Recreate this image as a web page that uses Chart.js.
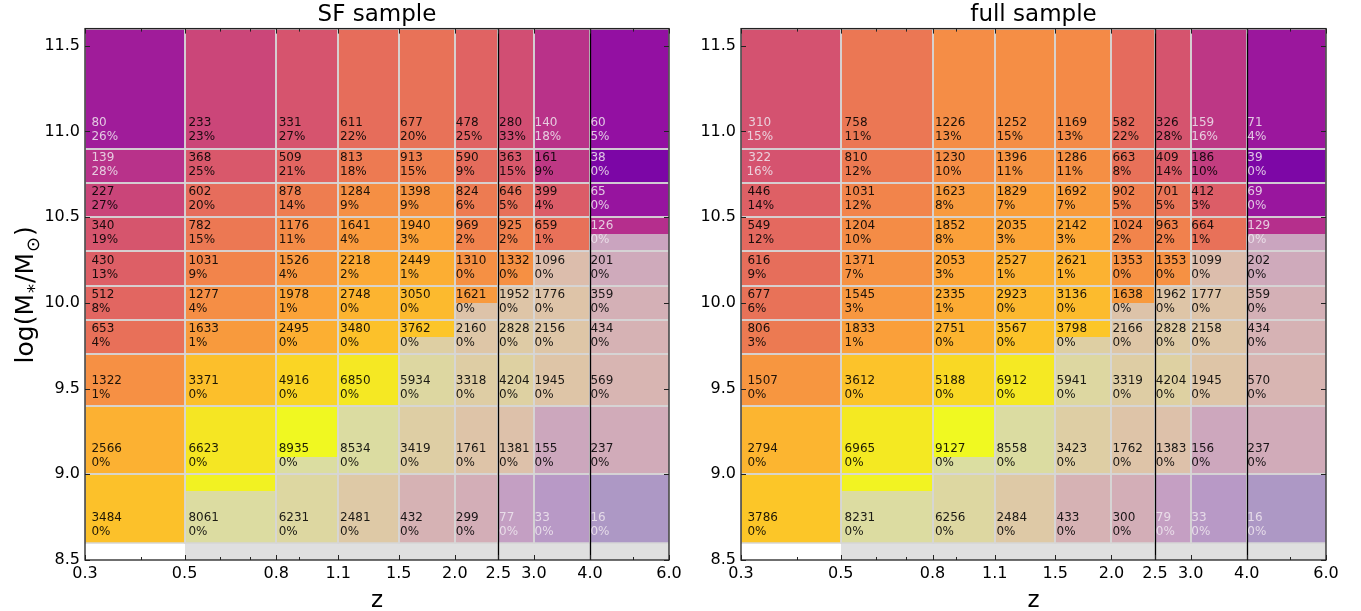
<!DOCTYPE html>
<html>
<head>
<meta charset="utf-8">
<script src="https://cdn.jsdelivr.net/npm/chart.js@4.4.0/dist/chart.umd.min.js"></script>
<style>
  body { margin: 0; background: #fff; }
  #wrap { position: relative; width: 1361px; height: 611px; overflow: hidden; }
  canvas { position: absolute; top: 0; }
</style>
</head>
<body>
<div id="wrap">
  <canvas id="sfChart" width="700" height="611" style="left:0"></canvas>
  <canvas id="fullChart" width="671" height="611" style="left:690px"></canvas>
</div>
<script>
const FONT = '"DejaVu Sans", sans-serif';

const zEdges = [0.3, 0.5, 0.8, 1.1, 1.5, 2.0, 2.5, 3.0, 4.0, 6.0];
const massEdges = [8.6, 9.0, 9.4, 9.7, 9.9, 10.1, 10.3, 10.5, 10.7, 10.9, 11.6];
// mass completeness limit per z bin (below it the cells are greyed out)
const massLimit = [8.5, 8.9, 9.1, 9.4, 9.8, 10.0, 10.1, 10.3, 10.4];
const zTicks = [0.3, 0.5, 0.8, 1.1, 1.5, 2.0, 2.5, 3.0, 4.0, 6.0];
const zMinorTicks = [0.4, 0.6, 0.7, 0.9, 5.0];
const massTicks = [8.5, 9.0, 9.5, 10.0, 10.5, 11.0, 11.5];
const zLines = [2.5, 4.0];

// rows go from the lowest mass bin (8.6-9.0) up to the top one (10.9-11.6)
const sfCounts = [
  [3484, 8061, 6231, 2481, 432, 299, 77, 33, 16],
  [2566, 6623, 8935, 8534, 3419, 1761, 1381, 155, 237],
  [1322, 3371, 4916, 6850, 5934, 3318, 4204, 1945, 569],
  [653, 1633, 2495, 3480, 3762, 2160, 2828, 2156, 434],
  [512, 1277, 1978, 2748, 3050, 1621, 1952, 1776, 359],
  [430, 1031, 1526, 2218, 2449, 1310, 1332, 1096, 201],
  [340, 782, 1176, 1641, 1940, 969, 925, 659, 126],
  [227, 602, 878, 1284, 1398, 824, 646, 399, 65],
  [139, 368, 509, 813, 913, 590, 363, 161, 38],
  [80, 233, 331, 611, 677, 478, 280, 140, 60]
];
const sfPct = [
  [0, 0, 0, 0, 0, 0, 0, 0, 0],
  [0, 0, 0, 0, 0, 0, 0, 0, 0],
  [1, 0, 0, 0, 0, 0, 0, 0, 0],
  [4, 1, 0, 0, 0, 0, 0, 0, 0],
  [8, 4, 1, 0, 0, 0, 0, 0, 0],
  [13, 9, 4, 2, 1, 0, 0, 0, 0],
  [19, 15, 11, 4, 3, 2, 2, 1, 0],
  [27, 20, 14, 9, 9, 6, 5, 4, 0],
  [28, 25, 21, 18, 15, 9, 15, 9, 0],
  [26, 23, 27, 22, 20, 25, 33, 18, 5]
];
const fullCounts = [
  [3786, 8231, 6256, 2484, 433, 300, 79, 33, 16],
  [2794, 6965, 9127, 8558, 3423, 1762, 1383, 156, 237],
  [1507, 3612, 5188, 6912, 5941, 3319, 4204, 1945, 570],
  [806, 1833, 2751, 3567, 3798, 2166, 2828, 2158, 434],
  [677, 1545, 2335, 2923, 3136, 1638, 1962, 1777, 359],
  [616, 1371, 2053, 2527, 2621, 1353, 1353, 1099, 202],
  [549, 1204, 1852, 2035, 2142, 1024, 963, 664, 129],
  [446, 1031, 1623, 1829, 1692, 902, 701, 412, 69],
  [322, 810, 1230, 1396, 1286, 663, 409, 186, 39],
  [310, 758, 1226, 1252, 1169, 582, 326, 159, 71]
];
const fullPct = [
  [0, 0, 0, 0, 0, 0, 0, 0, 0],
  [0, 0, 0, 0, 0, 0, 0, 0, 0],
  [0, 0, 0, 0, 0, 0, 0, 0, 0],
  [3, 1, 0, 0, 0, 0, 0, 0, 0],
  [6, 3, 1, 0, 0, 0, 0, 0, 0],
  [9, 7, 3, 1, 1, 0, 0, 0, 0],
  [12, 10, 8, 3, 3, 2, 2, 1, 0],
  [14, 12, 8, 7, 7, 5, 5, 3, 0],
  [16, 12, 10, 11, 11, 8, 14, 10, 0],
  [15, 11, 13, 15, 13, 22, 28, 16, 4]
];

// matplotlib "plasma", sampled every 0.1
const plasmaStops = [
  [13, 8, 135], [65, 4, 157], [106, 0, 168], [143, 13, 164], [177, 42, 144],
  [204, 71, 120], [225, 100, 98], [242, 132, 75], [252, 166, 54], [252, 206, 37], [240, 249, 33]
];

function plasma(t) {
  t = Math.min(1, Math.max(0, t));
  const s = t * (plasmaStops.length - 1);
  const i = Math.min(Math.floor(s), plasmaStops.length - 2);
  const f = s - i;
  const a = plasmaStops[i], b = plasmaStops[i + 1];
  const c = [0, 1, 2].map(k => Math.round(a[k] + (b[k] - a[k]) * f));
  return `rgb(${c[0]},${c[1]},${c[2]})`;
}

// log colour scale on the number of galaxies
function countColor(n) {
  return plasma((Math.log10(n) - 0.79) / (3.96 - 0.79));
}

// pale text on the dark cells (and a few cells the original also printed pale)
function labelIsPale(panel, zi, mi, n) {
  if (n < 150) return true;
  return panel === 'full' && ((zi === 0 && mi >= 8) || (zi === 7 && mi === 9));
}

function cellsPlugin(counts, pct, panel) {
  return {
    id: 'cells',
    beforeDatasetsDraw(chart) {
      const { ctx, chartArea: area, scales: { x, y } } = chart;
      ctx.save();
      ctx.beginPath();
      ctx.rect(area.left, area.top, area.width, area.height);
      ctx.clip();

      for (let mi = 0; mi < massEdges.length - 1; mi++) {
        for (let zi = 0; zi < zEdges.length - 1; zi++) {
          const x0 = Math.round(x.getPixelForValue(zEdges[zi]));
          const x1 = Math.round(x.getPixelForValue(zEdges[zi + 1]));
          const y0 = Math.round(y.getPixelForValue(massEdges[mi + 1]));
          const y1 = Math.round(y.getPixelForValue(massEdges[mi]));
          ctx.fillStyle = countColor(counts[mi][zi]);
          ctx.fillRect(x0, y0, x1 - x0, y1 - y0);
        }
      }

      // grey veil below the completeness limit
      ctx.fillStyle = 'rgba(211, 211, 211, 0.72)';
      massLimit.forEach((lim, zi) => {
        if (lim <= y.min) return;
        const x0 = Math.round(x.getPixelForValue(zEdges[zi]));
        const x1 = Math.round(x.getPixelForValue(zEdges[zi + 1]));
        const yTop = Math.round(y.getPixelForValue(lim));
        const yBot = Math.round(y.getPixelForValue(y.min));
        ctx.fillRect(x0, yTop, x1 - x0, yBot - yTop);
      });

      // cell edges
      ctx.strokeStyle = '#d6d6d6';
      ctx.lineWidth = 1.5;
      for (let mi = 0; mi < massEdges.length - 1; mi++) {
        for (let zi = 0; zi < zEdges.length - 1; zi++) {
          const x0 = Math.round(x.getPixelForValue(zEdges[zi]));
          const x1 = Math.round(x.getPixelForValue(zEdges[zi + 1]));
          const y0 = Math.round(y.getPixelForValue(massEdges[mi + 1]));
          const y1 = Math.round(y.getPixelForValue(massEdges[mi]));
          ctx.strokeRect(x0, y0, x1 - x0, y1 - y0);
        }
      }

      ctx.strokeStyle = '#000';
      ctx.lineWidth = 1.3;
      zLines.forEach(z => {
        const px = Math.round(x.getPixelForValue(z)) + 0.5;
        ctx.beginPath();
        ctx.moveTo(px, area.top);
        ctx.lineTo(px, area.bottom);
        ctx.stroke();
      });
      ctx.restore();
    },
    afterDatasetsDraw(chart) {
      const { ctx, scales: { x, y } } = chart;
      ctx.save();
      ctx.font = '12px ' + FONT;
      ctx.textBaseline = 'alphabetic';
      for (let mi = 0; mi < massEdges.length - 1; mi++) {
        for (let zi = 0; zi < zEdges.length - 1; zi++) {
          const n = counts[mi][zi];
          const lines = [String(n), pct[mi][zi] + '%'];
          const xl = x.getPixelForValue(zEdges[zi] + 0.01);
          const yc = y.getPixelForValue(massEdges[mi] + 0.1);
          const pale = labelIsPale(panel, zi, mi, n);
          ctx.fillStyle = pale ? 'rgba(238, 230, 238, 0.85)' : 'rgba(0, 0, 0, 0.88)';
          let xt = xl;
          if (pale && panel === 'full' && zi === 0) {
            const w = Math.max(...lines.map(s => ctx.measureText(s).width));
            ctx.textAlign = 'center';
            xt = xl - 1 + w / 2;
          } else {
            ctx.textAlign = 'left';
          }
          ctx.fillText(lines[0], xt, yc - 5);
          ctx.fillText(lines[1], xt, yc + 9);
        }
      }
      ctx.restore();
    }
  };
}

function drawMassLabel(ctx, cx, cy) {
  const big = '25px ' + FONT, small = '18px ' + FONT;
  const parts = [['log(M', big, 0], ['*', small, 7], ['/M', big, 0], ['\u2299', small, 6], [')', big, 0]];
  ctx.save();
  ctx.translate(cx, cy);
  ctx.rotate(-Math.PI / 2);
  ctx.fillStyle = '#000';
  ctx.textAlign = 'left';
  ctx.textBaseline = 'alphabetic';
  let total = 0;
  parts.forEach(p => { ctx.font = p[1]; total += ctx.measureText(p[0]).width + 1; });
  let pos = -total / 2;
  parts.forEach(p => {
    ctx.font = p[1];
    ctx.fillText(p[0], pos, p[2]);
    pos += ctx.measureText(p[0]).width + 1;
  });
  ctx.restore();
}

function framePlugin(showMassLabel) {
  return {
    id: 'frame',
    afterDraw(chart) {
      const { ctx, chartArea: a, scales: { x, y } } = chart;
      ctx.save();
      ctx.strokeStyle = '#222';
      ctx.lineWidth = 1;
      const tick = (x0, y0, x1, y1) => {
        ctx.beginPath();
        ctx.moveTo(x0, y0);
        ctx.lineTo(x1, y1);
        ctx.stroke();
      };
      zTicks.forEach(z => {
        const px = Math.round(x.getPixelForValue(z)) + 0.5;
        tick(px, a.bottom, px, a.bottom - 5);
        tick(px, a.top, px, a.top + 5);
      });
      zMinorTicks.forEach(z => {
        const px = Math.round(x.getPixelForValue(z)) + 0.5;
        tick(px, a.bottom, px, a.bottom - 3);
        tick(px, a.top, px, a.top + 3);
      });
      massTicks.forEach(m => {
        const py = Math.round(y.getPixelForValue(m)) + 0.5;
        tick(a.left, py, a.left + 5, py);
        tick(a.right, py, a.right - 5, py);
      });
      ctx.lineWidth = 1.3;
      ctx.strokeRect(a.left, a.top, a.right - a.left, a.bottom - a.top);
      if (showMassLabel) drawMassLabel(ctx, 33, (a.top + a.bottom) / 2);
      ctx.restore();
    }
  };
}

function makePanel(id, title, counts, pct, panel, axisWidth, padRight) {
  return new Chart(document.getElementById(id), {
    type: 'scatter',
    data: { datasets: [] },
    plugins: [cellsPlugin(counts, pct, panel), framePlugin(panel === 'sf')],
    options: {
      responsive: false,
      animation: false,
      devicePixelRatio: 1,
      layout: { padding: { left: 0, right: padRight, top: 0, bottom: 0 } },
      plugins: {
        legend: { display: false },
        tooltip: { enabled: false },
        title: {
          display: true,
          text: title,
          fullSize: false,
          color: '#000',
          font: { family: FONT, size: 23, weight: 'normal' },
          padding: { top: 1, bottom: 0 }
        }
      },
      scales: {
        x: {
          type: 'logarithmic',
          min: 0.3,
          max: 6,
          afterBuildTicks: s => { s.ticks = zTicks.map(v => ({ value: v })); },
          afterFit: s => { s.height = 51; s.paddingLeft = 0; s.paddingRight = 0; },
          ticks: {
            autoSkip: false,
            maxRotation: 0,
            minRotation: 0,
            padding: 4,
            color: '#000',
            font: { family: FONT, size: 16 },
            callback: v => Number(v).toFixed(1)
          },
          grid: { display: false, drawTicks: false },
          border: { display: false },
          title: {
            display: true,
            text: 'z',
            color: '#000',
            font: { family: FONT, size: 23 },
            padding: { top: 0, bottom: -4 }
          }
        },
        y: {
          type: 'linear',
          min: 8.5,
          max: 11.6,
          afterBuildTicks: s => { s.ticks = massTicks.map(v => ({ value: v })); },
          afterFit: s => { s.width = axisWidth; s.paddingTop = 0; s.paddingBottom = 0; },
          ticks: {
            padding: 5,
            color: '#000',
            font: { family: FONT, size: 16 },
            callback: v => Number(v).toFixed(1)
          },
          grid: { display: false, drawTicks: false },
          border: { display: false }
        }
      }
    }
  });
}

makePanel('sfChart', 'SF sample', sfCounts, sfPct, 'sf', 85, 31);
makePanel('fullChart', 'full sample', fullCounts, fullPct, 'full', 51, 35);
</script>
</body>
</html>
